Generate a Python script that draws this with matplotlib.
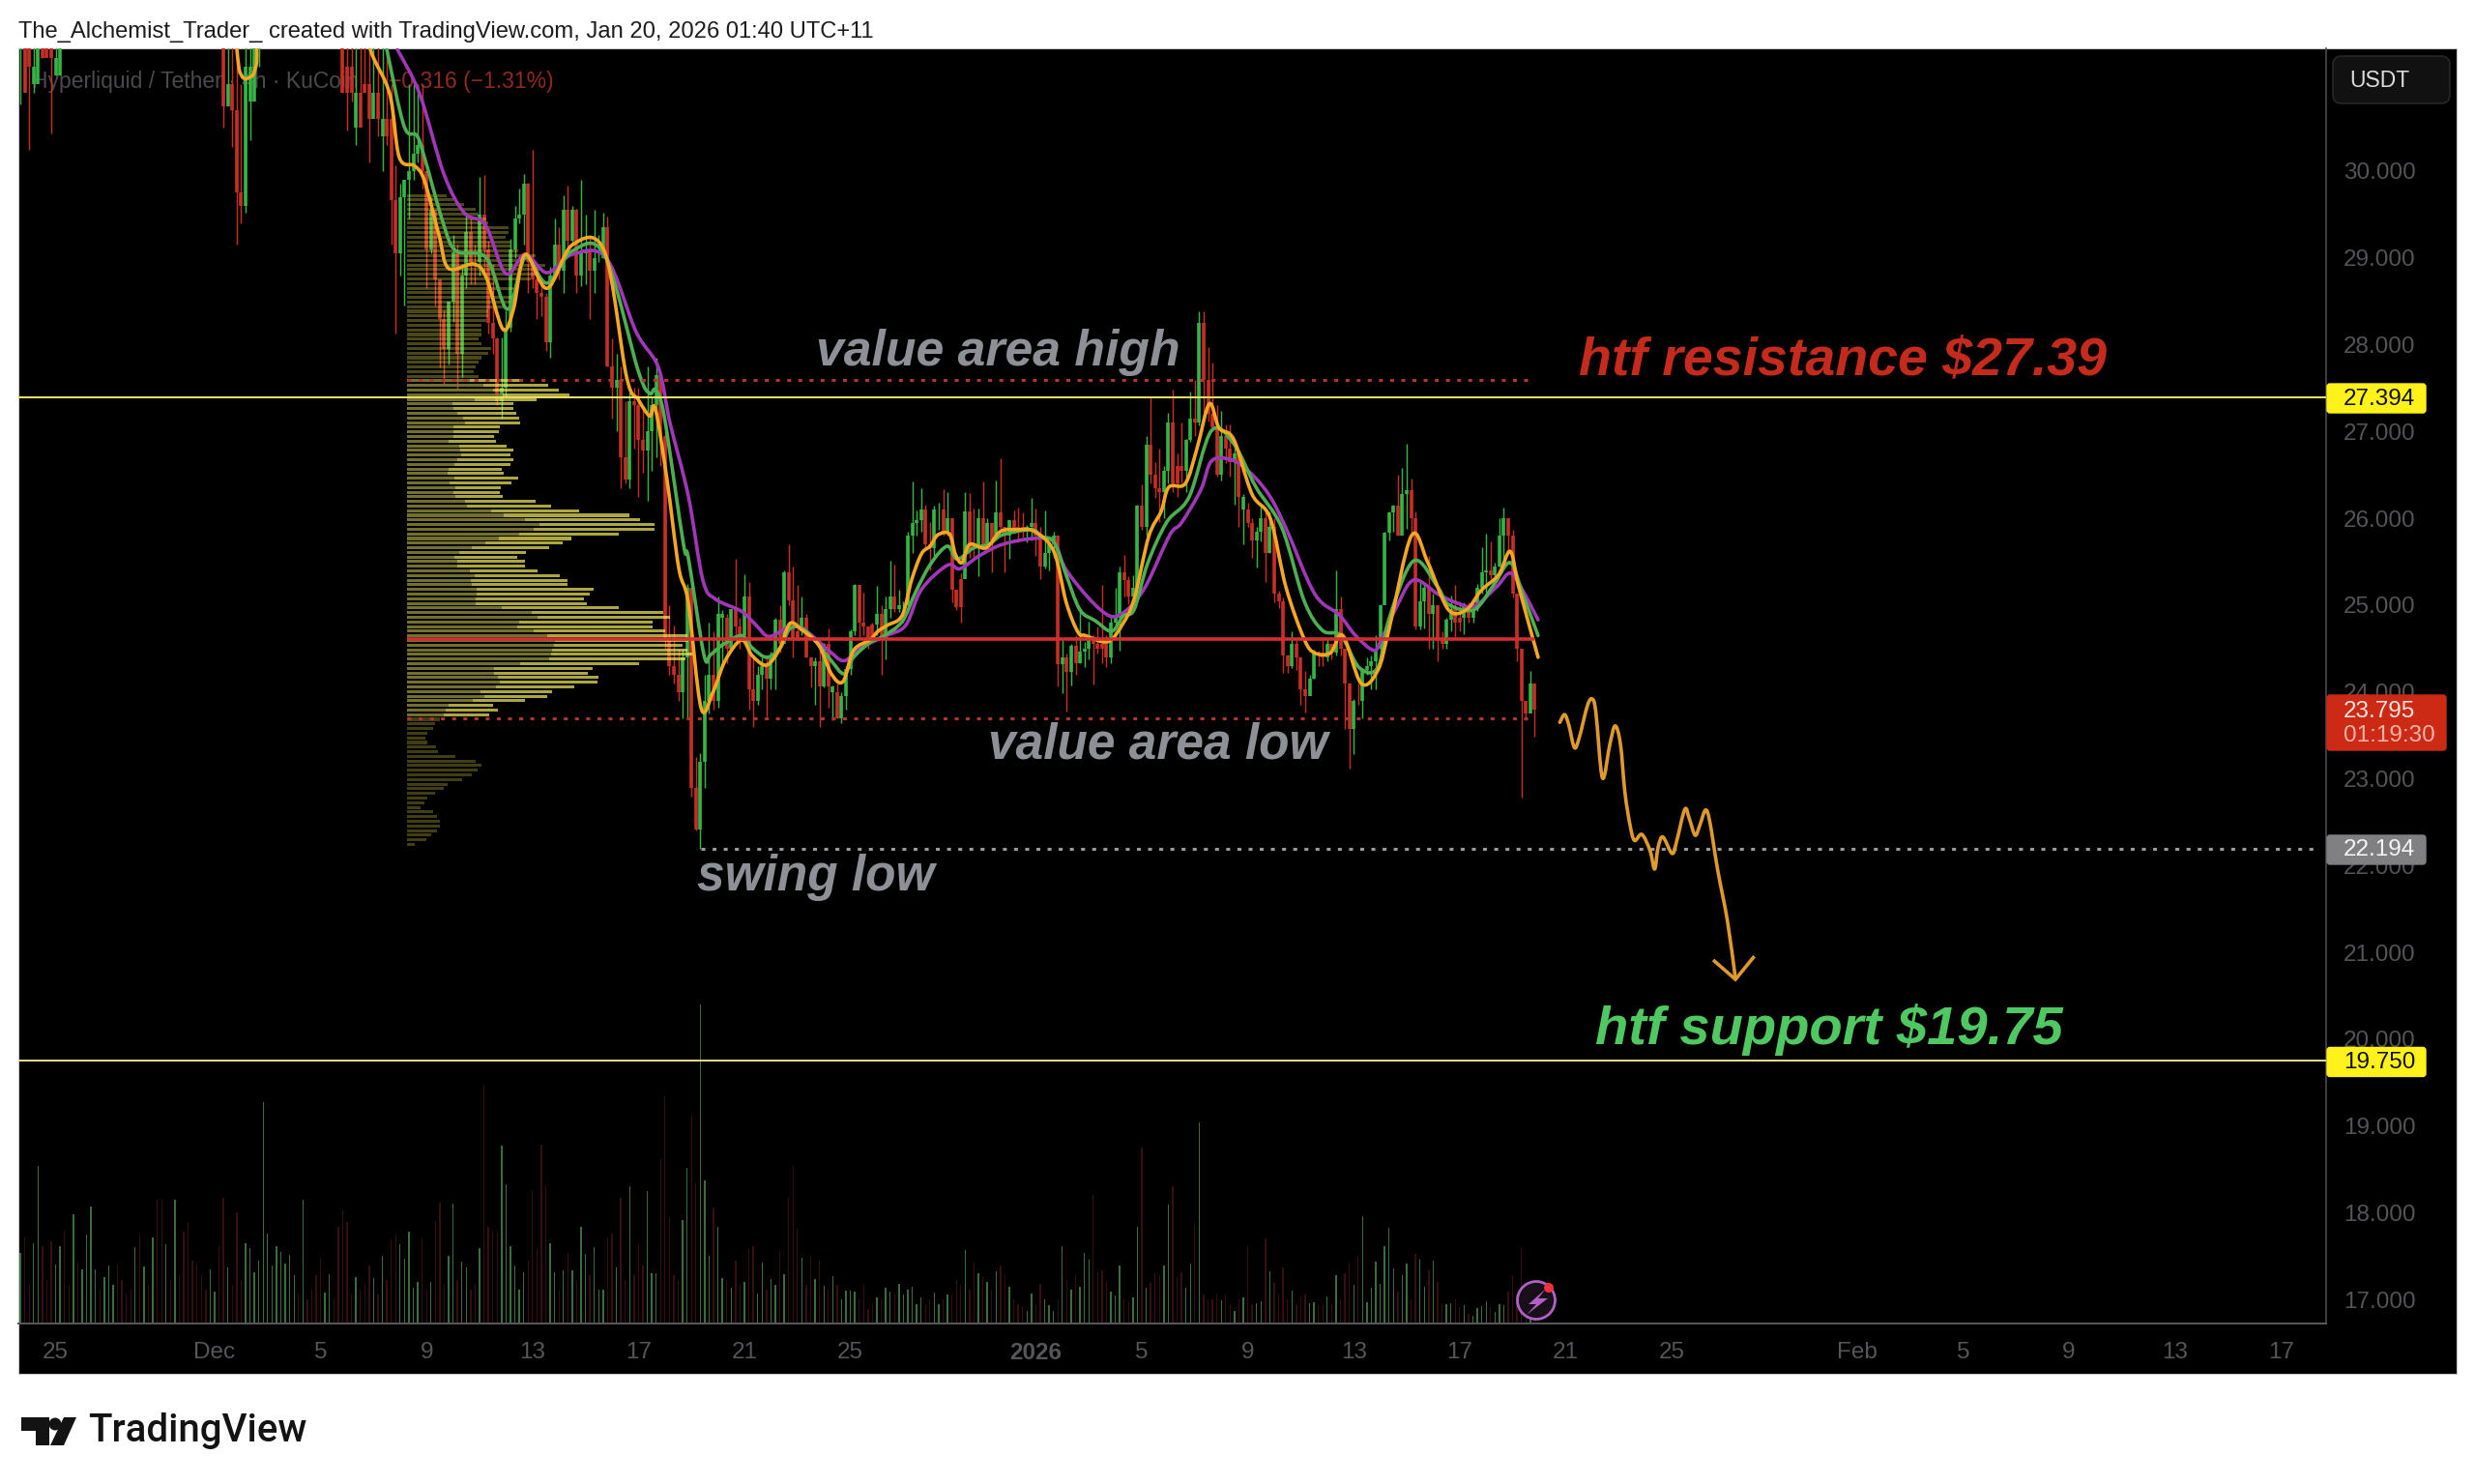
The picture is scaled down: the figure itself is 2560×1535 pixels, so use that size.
import numpy as np
import matplotlib
matplotlib.use("Agg")
import matplotlib.pyplot as plt
from matplotlib.patches import Rectangle, FancyBboxPatch, Circle, Polygon, PathPatch
from matplotlib.path import Path
from matplotlib.transforms import blended_transform_factory

plt.rcParams['font.family'] = ['Liberation Sans', 'DejaVu Sans']

W, H = 2560, 1535

# 4h candles, one per bar. candles above the window only need a rough value
close = [
    30.9, 31.5, 31.2, 31.0, 32.0, 31.3, 31.5, 31.3, 31.1,
    33, 33, 33, 33, 33, 33, 33, 33, 33, 33, 33, 33, 33, 33, 33, 33, 33, 33, 33,
    33, 33, 33, 33, 33, 33, 33, 33, 33, 33, 33, 33, 33, 33, 33, 33, 33, 33,
    30.75, 31.0, 30.7, 29.75, 29.6, 31.2, 30.8, 31.5, 32.0,
    33, 33, 33, 33, 33, 33, 33, 33, 33, 33, 33, 33, 33, 33, 33, 33, 33, 33,
    30.9, 31.2, 30.9, 30.5, 30.9, 31.0, 30.6, 30.9, 30.6, 30.4, 30.6,
    29.67, 29.05, 29.7, 29.9, 30.0, 30.2, 30.3, 30.0, 29.1, 29.55,
    28.75, 28.3, 27.95, 28.5, 29.07, 27.9, 28.8, 29.3, 28.95, 28.95,
    29.5, 29.1, 28.25, 28.07, 27.35, 27.5, 28.2, 29.1, 29.45, 29.5,
    29.85, 28.95, 28.75, 28.6, 28.55, 28.03, 28.8, 29.15, 28.85, 29.55,
    29.2, 29.55, 28.8, 29.05, 29.1, 28.85, 29.0, 29.0, 29.35, 27.75,
    27.5, 27.6, 26.7, 26.45, 27.35, 27.3, 26.9, 26.78, 27.0, 27.3,
    27.65, 26.95, 24.6, 24.3, 24.2, 24.0, 24.4, 25.2, 22.9, 22.42,
    23.2, 23.9, 24.2, 23.9, 24.9, 24.85, 24.5, 24.95, 24.75, 24.65,
    25.1, 24.03, 23.9, 24.2, 24.3, 24.15, 24.4, 24.83, 24.55, 25.38,
    25.06, 24.6, 24.7, 24.85, 24.4, 24.3, 24.35, 24.07, 24.55, 24.07,
    24.0, 23.7, 23.95, 24.27, 24.7, 25.23, 24.8, 24.75, 24.6, 24.78,
    24.9, 24.6, 24.95, 25.1, 24.95, 25.0, 25.0, 25.8, 25.95, 25.98,
    26.1, 25.7, 25.66, 26.1, 26.1, 25.85, 26.0, 25.18, 24.98, 25.3,
    26.08, 25.65, 25.7, 26.0, 25.7, 25.95, 25.75, 26.07, 25.9, 25.8,
    25.98, 25.85, 25.9, 25.85, 25.9, 25.95, 25.8, 25.44, 25.6, 25.7,
    25.8, 24.32, 24.4, 24.23, 24.53, 24.33, 24.47, 24.5, 24.6, 24.55,
    24.5, 24.55, 24.4, 24.8, 24.85, 25.38, 25.29, 25.1, 25.2, 26.15,
    25.9, 26.85, 26.5, 26.35, 26.3, 26.55, 27.1, 26.4, 26.6, 26.55,
    26.9, 27.15, 27.1, 28.25, 27.6, 27.2, 27.05, 26.5, 26.95, 26.8,
    26.65, 26.75, 26.25, 26.1, 25.95, 25.75, 25.85, 26.0, 25.6, 25.9,
    25.13, 25.05, 24.42, 24.3, 24.55, 24.4, 24.03, 23.95, 24.15, 24.45,
    24.45, 24.4, 24.55, 24.45, 24.95, 24.5, 24.1, 23.58, 23.9, 23.9,
    24.25, 24.3, 24.35, 24.5, 25.0, 25.83, 26.07, 26.15, 25.8, 26.28,
    26.33, 26.0, 24.75, 25.05, 25.2, 24.9, 25.0, 24.6, 24.55, 24.83,
    24.95, 24.8, 24.85, 25.0, 24.85, 24.95, 25.2, 25.38, 25.4, 25.35,
    25.45, 25.8, 26.0, 25.8, 25.13, 24.5, 23.9, 23.75, 24.1, 23.795,
]
high = [
    33, 33, 33, 33, 33, 33, 33, 33, 33,
    34, 34, 34, 34, 34, 34, 34, 34, 34, 34, 34, 34, 34, 34, 34, 34, 34, 34, 34,
    34, 34, 34, 34, 34, 34, 34, 34, 34, 34, 34, 34, 34, 34, 34, 34, 34, 34,
    33, 33, 33, 32, 31, 33, 33, 33, 33,
    34, 34, 34, 34, 34, 34, 34, 34, 34, 34, 34, 34, 34, 34, 34, 34, 34, 34,
    33, 33, 33, 32, 32, 33, 32, 32, 32, 31.5, 31.5,
    31.0, 30.07, 29.85, 29.9, 31.0, 31.0, 31.0, 31.0, 30.0, 29.7,
    29.45, 28.72, 28.4, 28.5, 29.27, 29.15, 28.93, 29.52, 29.46, 29.15,
    29.93, 29.96, 29.2, 28.93, 28.09, 28.09, 28.4, 29.22, 29.6, 29.8,
    29.97, 29.87, 30.24, 28.93, 28.75, 28.6, 28.9, 29.45, 29.35, 29.72,
    29.83, 29.6, 29.57, 29.9, 29.5, 29.26, 29.55, 29.26, 29.52, 29.48,
    28.07, 27.9, 27.75, 27.35, 27.45, 27.5, 27.5, 27.25, 27.75, 27.4,
    27.85, 27.65, 27.0, 25.0, 24.77, 24.5, 24.5, 25.25, 25.1, 23.25,
    23.3, 24.2, 24.8, 24.7, 25.1, 24.94, 24.9, 24.95, 25.53, 24.85,
    25.36, 25.27, 24.4, 24.3, 24.4, 24.4, 24.47, 24.85, 25.0, 25.4,
    25.7, 25.44, 25.23, 25.1, 24.9, 24.4, 24.4, 24.6, 24.57, 24.73,
    24.08, 24.1, 24.0, 24.3, 24.72, 25.25, 25.18, 25.14, 24.7, 24.8,
    25.22, 25.0, 25.1, 25.51, 25.47, 25.18, 25.05, 25.85, 26.43, 26.09,
    26.35, 26.16, 25.96, 26.15, 26.18, 26.34, 26.3, 25.9, 25.18, 25.37,
    26.3, 26.29, 26.11, 26.11, 26.43, 26.0, 25.8, 26.44, 26.69, 25.87,
    25.98, 26.09, 26.13, 26.07, 25.92, 26.24, 26.11, 25.9, 26.09, 25.74,
    25.85, 25.8, 24.6, 24.44, 24.55, 24.66, 24.92, 24.58, 24.81, 24.66,
    24.75, 25.23, 24.66, 24.88, 25.2, 25.44, 25.58, 25.33, 25.35, 26.16,
    26.39, 26.95, 27.4, 26.65, 26.8, 26.6, 27.22, 27.48, 26.75, 27.1,
    26.92, 27.46, 27.6, 28.39, 28.38, 27.97, 27.8, 27.3, 27.24, 27.08,
    27.08, 26.92, 26.72, 26.28, 26.18, 26.0, 25.9, 26.16, 26.12, 26.08,
    26.0, 25.17, 25.09, 24.43, 24.7, 24.6, 24.35, 24.24, 24.2, 24.49,
    24.48, 24.6, 24.6, 24.55, 25.4, 25.1, 24.5, 24.1, 23.92, 24.1,
    24.28, 24.4, 24.42, 24.65, 25.01, 25.85, 26.08, 26.16, 26.5, 26.58,
    26.86, 26.46, 26.08, 25.29, 25.25, 25.57, 25.13, 24.99, 24.7, 24.85,
    25.11, 25.23, 25.05, 25.03, 25.03, 25.0, 25.25, 25.67, 25.82, 25.73,
    25.49, 26.0, 26.12, 26.0, 25.87, 25.13, 24.47, 23.9, 24.24, 24.1,
]
low = [
    30.77, 31.2, 30.24, 30.9, 31.8, 31.3, 31.35, 30.43, 31.1,
    32.5, 32.5, 32.5, 32.5, 32.5, 32.5, 32.5, 32.5, 32.5, 32.5, 32.5, 32.5, 32.5, 32.5, 32.5, 32.5, 32.5, 32.5, 32.5,
    32.5, 32.5, 32.5, 32.5, 32.5, 32.5, 32.5, 32.5, 32.5, 32.5, 32.5, 32.5, 32.5, 32.5, 32.5, 32.5, 32.5, 32.5,
    30.5, 31.0, 30.28, 29.15, 29.4, 29.52, 30.36, 31.15, 31.2,
    32.5, 32.5, 32.5, 32.5, 32.5, 32.5, 32.5, 32.5, 32.5, 32.5, 32.5, 32.5, 32.5, 32.5, 32.5, 32.5, 32.5, 32.5,
    30.9, 30.47, 30.8, 30.3, 30.9, 31.0, 30.1, 30.9, 30.4, 30.0, 30.3,
    29.15, 28.13, 28.8, 28.45, 29.45, 29.9, 30.1, 29.8, 28.65, 29.05,
    28.45, 27.74, 27.55, 27.77, 28.26, 27.48, 27.63, 28.65, 28.7, 28.7,
    28.8, 28.83, 28.13, 27.9, 27.3, 27.15, 27.4, 28.15, 29.0, 29.4,
    29.15, 28.6, 28.65, 28.3, 28.33, 27.93, 27.85, 28.75, 28.75, 28.6,
    29.1, 29.15, 28.6, 28.67, 28.7, 28.3, 28.6, 28.95, 29.0, 27.75,
    27.15, 27.0, 26.35, 26.4, 26.35, 26.8, 26.25, 26.52, 26.2, 26.55,
    26.7, 26.6, 24.5, 24.2, 24.1, 23.9, 23.7, 23.7, 22.8, 22.4,
    22.19, 22.9, 23.75, 23.8, 23.82, 24.3, 24.33, 24.6, 24.6, 24.5,
    24.6, 23.8, 23.6, 23.85, 24.03, 23.72, 24.03, 24.03, 24.45, 24.66,
    25.0, 24.4, 24.6, 24.66, 24.4, 24.05, 23.85, 23.6, 24.05, 23.82,
    23.67, 23.7, 23.64, 23.8, 24.2, 24.66, 24.63, 24.66, 24.5, 24.6,
    24.66, 24.2, 24.38, 24.85, 24.92, 24.92, 24.8, 25.0, 25.6, 25.8,
    25.85, 25.66, 25.4, 25.57, 25.87, 25.8, 25.8, 25.03, 24.94, 24.8,
    25.37, 25.55, 25.55, 25.33, 25.66, 25.66, 25.38, 25.85, 25.87, 25.38,
    25.53, 25.82, 25.72, 25.78, 25.72, 25.75, 25.57, 25.3, 25.42, 25.4,
    25.55, 24.07, 23.99, 23.77, 24.08, 24.2, 24.33, 24.29, 24.38, 24.09,
    24.44, 24.33, 24.29, 24.33, 24.73, 24.48, 25.1, 25.01, 25.0, 25.1,
    25.87, 25.8, 26.4, 26.24, 25.96, 26.0, 26.4, 26.3, 26.25, 26.4,
    26.3, 26.88, 26.95, 27.07, 27.1, 27.12, 27.04, 26.48, 26.44, 26.64,
    26.48, 26.16, 25.9, 25.7, 25.9, 25.55, 25.43, 25.73, 25.27, 25.6,
    25.03, 24.97, 24.22, 24.22, 24.28, 24.25, 23.85, 23.76, 24.0, 24.15,
    24.3, 24.3, 24.35, 24.38, 24.42, 24.42, 23.58, 23.12, 23.28, 23.85,
    23.7, 24.2, 24.03, 24.03, 24.42, 25.05, 25.75, 25.85, 25.8, 25.83,
    25.88, 25.8, 24.72, 24.72, 24.73, 24.5, 24.5, 24.35, 24.5, 24.5,
    24.7, 24.63, 24.7, 24.67, 24.8, 24.8, 24.93, 25.13, 25.15, 25.3,
    25.25, 25.45, 25.5, 25.6, 25.09, 24.35, 22.78, 23.68, 23.78, 23.48,
]
# volume bar height, positive = green bar, negative = red bar
volume = [
    73, -90, -40, 83, 163, -80, -45, -85, 61, 80, -95, -40, 113, -63, 56, 92, 121, 56, -35, 48,
    60, 40, -62, -45, -30, -35, 79, -92, 59, -40, 89, -128, -128, 82, -45, 128, -50, -95, -105, -65,
    -62, -50, -35, 56, 33, -80, -130, 58, -40, -115, -45, 83, 78, 53, 65, 229, 93, 60, 80, 74,
    62, 71, 50, -30, 128, -25, -35, -50, -68, 32, 51, -25, -100, -117, -105, -30, 48, -35, -40, -60,
    47, -30, 70, -45, -87, -92, 82, 67, 95, 37, 43, -88, -35, 43, -106, -125, -40, 70, 124, -45,
    64, 58, -35, -40, 78, -247, -100, -95, -95, 184, 144, 80, 60, 35, 53, -65, -138, -78, -185, -143,
    83, 53, -35, 55, -73, 55, -45, 100, 72, -50, 79, 35, 35, -90, -93, 58, -130, -45, 142, -50,
    -83, -60, 137, 52, 52, -170, -235, -110, -50, -45, 107, 161, -215, -145, 330, 148, 70, -120, 100, 47,
    -45, 37, -65, -40, 43, -78, -80, 31, 63, -35, 46, 40, -75, 51, -130, -163, -98, 68, -40, -70,
    46, -65, 39, -35, 49, -40, 25, 34, 34, 33, -25, -40, -15, -20, 27, -25, 37, 33, -30, 41,
    30, 35, 38, 20, 27, -20, -25, 32, 20, -25, 30, -30, -45, -40, 76, -35, -63, 52, -48, 43,
    -35, 54, -60, -50, 38, -25, -20, -18, 13, 31, -20, -41, 25, 19, 13, -25, 80, -45, 35, -50,
    38, 73, 66, -133, -53, -55, -43, 33, 29, 60, -25, -23, 27, 100, -182, 37, -42, -52, -50, 60,
    123, -142, -48, -53, 37, 62, -103, 208, -30, -25, -25, -30, 24, -30, -20, 13, -25, 27, -80, -20,
    21, 23, -88, 54, -42, -30, -58, -25, 34, -20, -28, -30, 21, 22, -20, -20, 28, -20, 50, -25,
    -52, -63, 40, -70, 111, 22, 37, 64, 41, 80, 99, 57, -33, 50, 62, -25, -72, 66, 38, -55,
    65, -43, -20, 20, 21, -25, -17, 19, -10, 8, 16, 18, 23, -17, 12, 20, 19, -33, -50, -30,
    -78, -25, 10, -8,
]

# moving averages, (days from Dec 1, price)
ma_orange_x = [0.4, 0.84, 1.02, 1.31, 1.57, 2.0, 5.5, 5.88, 6.61, 6.97, 7.55, 7.92, 8.47, 8.83, 9.78, 10.26, 10.88, 11.28, 11.72, 12.55, 13.5, 14.71, 15.55, 15.99, 16.42, 16.64, 17.08, 17.52, 17.88, 18.36, 18.8, 19.27, 19.89, 20.29, 20.84, 21.35, 21.72, 22.19, 22.81, 23.28, 23.72, 24.12, 24.74, 25.04, 25.4, 25.95, 26.31, 26.68, 27.01, 27.3, 27.74, 27.96, 28.21, 28.5, 29.12, 29.67, 30.33, 30.95, 31.68, 32.15, 32.59, 32.88, 33.72, 34.27, 34.71, 35.26, 35.73, 36.02, 36.64, 37.08, 37.55, 37.92, 38.47, 39.16, 39.85, 40.44, 41.13, 41.53, 42.12, 42.59, 43.28, 43.91, 44.34, 45.18, 45.8, 46.57, 47.26, 47.81, 48.47, 48.91, 49.23, 49.96]
ma_orange_y = [33, 31.4, 31.1, 31.08, 31.22, 32, 32, 31.4, 30.89, 30.16, 30.06, 29.89, 29.26, 28.88, 28.93, 28.77, 28.18, 28.41, 29.04, 28.65, 29.15, 29.08, 27.63, 27.37, 27.18, 27.26, 26.44, 25.43, 25.03, 23.82, 23.99, 24.36, 24.6, 24.42, 24.31, 24.51, 24.79, 24.71, 24.54, 24.21, 24.12, 24.48, 24.6, 24.7, 24.77, 24.88, 25.29, 25.59, 25.68, 25.81, 25.82, 25.59, 25.49, 25.7, 25.66, 25.85, 25.87, 25.85, 25.62, 25.03, 24.69, 24.65, 24.58, 24.78, 25.07, 25.79, 26.08, 26.36, 26.4, 26.8, 27.32, 27.04, 26.91, 26.28, 26.0, 25.21, 24.61, 24.45, 24.45, 24.65, 24.1, 24.25, 24.73, 25.8, 25.49, 24.95, 24.95, 25.17, 25.35, 25.62, 25.21, 24.4]
ma_green_x = [6.5, 7.15, 7.63, 7.92, 8.65, 9.12, 10.26, 11.06, 11.72, 12.55, 13.5, 14.71, 15.99, 16.42, 16.64, 16.97, 17.7, 17.88, 18.47, 18.72, 19.16, 19.89, 20.29, 20.84, 21.35, 21.72, 22.19, 22.81, 23.28, 23.76, 24.12, 24.74, 25.22, 25.95, 26.46, 27.04, 27.66, 28.03, 28.65, 29.23, 29.74, 30.84, 31.2, 31.68, 32.12, 32.66, 33.25, 33.87, 34.31, 34.71, 35.22, 35.95, 36.79, 37.63, 38.47, 39.31, 40.29, 41.13, 41.82, 42.52, 43.21, 43.91, 44.34, 45.26, 46.17, 46.57, 47.55, 48.32, 48.91, 49.38, 49.96]
ma_green_y = [31.4, 30.52, 30.41, 30.16, 29.38, 29.08, 29.0, 28.41, 29.0, 28.71, 29.08, 29.04, 27.7, 27.44, 27.48, 27.18, 25.7, 25.55, 24.43, 24.43, 24.54, 24.65, 24.51, 24.4, 24.51, 24.73, 24.73, 24.54, 24.36, 24.21, 24.4, 24.57, 24.64, 24.81, 25.15, 25.48, 25.68, 25.53, 25.66, 25.7, 25.81, 25.87, 25.79, 25.73, 25.37, 24.95, 24.82, 24.7, 24.88, 24.95, 25.48, 25.96, 26.25, 27.01, 26.86, 26.36, 25.89, 25.05, 24.71, 24.65, 24.28, 24.28, 24.85, 25.51, 25.21, 25.01, 24.95, 25.25, 25.49, 25.13, 24.65]
ma_purple_x = [6.9, 7.74, 8.65, 9.42, 10.22, 10.99, 11.72, 12.55, 13.5, 14.78, 15.91, 16.75, 17.19, 17.88, 18.43, 18.91, 19.89, 20.44, 20.91, 21.57, 22.08, 22.55, 23.18, 23.76, 24.38, 25.36, 26.09, 26.68, 27.66, 28.14, 28.87, 29.74, 30.95, 31.68, 32.12, 33.03, 33.76, 34.23, 34.71, 35.22, 36.06, 36.5, 37.23, 37.63, 38.32, 39.01, 39.78, 40.44, 41.53, 42.45, 43.07, 43.76, 44.05, 44.6, 45.26, 46.17, 46.86, 47.55, 48.39, 48.91, 49.38, 49.96]
ma_purple_y = [31.4, 30.89, 29.97, 29.52, 29.38, 28.82, 29.04, 28.83, 29.04, 29.0, 28.15, 27.74, 27.1, 26.26, 25.29, 25.07, 24.93, 24.77, 24.64, 24.73, 24.75, 24.65, 24.48, 24.36, 24.51, 24.65, 24.77, 25.18, 25.46, 25.42, 25.57, 25.7, 25.77, 25.73, 25.42, 25.07, 24.88, 24.9, 25.03, 25.26, 25.81, 25.95, 26.33, 26.66, 26.68, 26.55, 26.28, 25.89, 25.13, 24.89, 24.65, 24.48, 24.61, 24.97, 25.29, 25.13, 25.03, 24.99, 25.21, 25.37, 25.17, 24.83]

# volume profile rows, top to bottom
profile_above = [41, 48, 59, 71, 74, 82, 84, 105, 105, 102, 107, 107, 115, 133, 115, 143, 140, 135, 128, 90,
                 115, 90, 110, 107, 100, 84, 84, 82, 77, 77, 77, 74, 77, 87, 84, 77, 74, 71, 69, 74]
profile_area = [119, 146, 157, 168, 134, 110, 110, 113, 116, 117, 96, 95, 90, 92, 103, 110, 107, 110, 107, 98,
                100, 115, 108, 97, 96, 99, 133, 149, 178, 230, 241, 256, 256, 219, 170, 161, 147, 123, 114, 122,
                122, 135, 158, 166, 166, 193, 189, 183, 186, 219, 265, 272, 254, 254, 267, 290, 291, 285, 290, 296,
                288, 240, 192, 187, 198, 197, 173, 150, 145, 122, 89, 94, 85]
profile_area_down = [65, 79, 89, 99, 70, 47, 48, 52, 58, 60, 48, 48, 48, 43, 54, 55, 56, 52, 49, 43,
                     42, 49, 44, 50, 48, 50, 60, 62, 87, 100, 122, 137, 131, 116, 95, 81, 67, 54, 49, 52,
                     52, 65, 70, 66, 67, 72, 72, 71, 71, 98, 129, 135, 116, 114, 131, 145, 153, 152, 150, 149,
                     147, 117, 90, 90, 94, 96, 92, 76, 80, 68, 43, 40, 38]
profile_below = [34, 29, 27, 21, 19, 21, 30, 32, 50, 71, 77, 73, 67, 57, 42, 38, 29, 21, 18, 14, 27, 31, 34, 34, 31, 25, 20, 8]

price_ticks = [30, 29, 28, 27, 26, 25, 24, 23, 22, 21, 20, 19, 18, 17]
time_ticks = [-6, 0, 4, 8, 12, 16, 20, 24, 31, 35, 39, 43, 47, 51, 55, 62, 66, 70, 74, 78]
time_labels = ['25', 'Dec', '5', '9', '13', '17', '21', '25', '2026', '5', '9', '13', '17', '21', '25', 'Feb', '5', '9', '13', '17']

resistance = 27.394
support = 19.75
swing_low = 22.194
last_price = 23.795
value_area_high = 27.59
value_area_low = 23.70
point_of_control = 24.61

# hand drawn projection
sketch_x = [50.78, 50.96, 51.12, 51.33, 51.51, 51.82, 52.0, 52.14, 52.39, 52.67, 52.87, 53.07, 53.24, 53.43, 53.6, 53.88, 54.19, 54.36, 54.49, 54.67, 55.02, 55.19, 55.5, 55.67, 55.89, 56.07, 56.28, 56.44, 56.74, 57.11, 57.41]
sketch_y = [23.65, 23.74, 23.62, 23.36, 23.47, 23.84, 23.92, 23.77, 23.01, 23.4, 23.61, 23.4, 22.84, 22.47, 22.29, 22.36, 22.17, 21.96, 22.21, 22.33, 22.14, 22.28, 22.65, 22.54, 22.35, 22.47, 22.64, 22.51, 21.95, 21.36, 20.7]
head_x = [56.62, 57.41, 58.08]
head_y = [20.9, 20.69, 20.94]

close = np.array(close, float)
high = np.array(high, float)
low = np.array(low, float)
volume = np.array(volume, float)
n = len(close)
days = (np.arange(n) - 44) / 6
opens = np.r_[close[0], close[:-1]]
is_up = volume > 0

GREEN = '#35b546'
RED = '#c62f28'


def smooth_line(a, xs, ys, color, lw, zorder):
    # bezier through the read points, so the line is rounded like the original
    p = np.column_stack([xs, ys])
    prev = np.vstack([p[0], p[:-1]])
    nxt = np.vstack([p[1:], p[-1]])
    tan = (nxt - prev) / 6
    verts = [p[0]]
    codes = [Path.MOVETO]
    for i in range(len(p) - 1):
        verts += [p[i] + tan[i], p[i + 1] - tan[i + 1], p[i + 1]]
        codes += [Path.CURVE4] * 3
    a.add_patch(PathPatch(Path(verts, codes), fc='none', ec=color, lw=lw, zorder=zorder, capstyle='round', joinstyle='round'))


fig = plt.figure(figsize=(W / 100, H / 100), dpi=100, facecolor='white')
fig.add_artist(Rectangle((19 / W, 1 - 1421 / H), 2522 / W, 1371 / H, transform=fig.transFigure,
                         fc='black', ec='#c8c8c8', lw=0.8, zorder=-1))

ax = fig.add_axes([19 / W, 1 - 1369 / H, 2387 / W, 1319 / H])
ax.set_xlim((19 - 222) / 27.4, (2406 - 222) / 27.4)
ax.set_ylim(31.971 - 1369 / 89.8, 31.971 - 50 / 89.8)
ax.patch.set_visible(False)
vol_ax = ax.twinx()
ax.set_zorder(2)
vol_ax.set_zorder(1)
vol_ax.set_ylim(0, 1319)
vol_ax.set_yticks([])
vol_ax.patch.set_visible(False)
for a in (ax, vol_ax):
    for s in a.spines.values():
        s.set_visible(False)

ax.spines['bottom'].set_visible(True)
ax.spines['bottom'].set_color('#5a5a5e')
ax.spines['bottom'].set_linewidth(1.4)
ax.spines['right'].set_visible(True)
ax.spines['right'].set_color('#4a4a50')
ax.spines['right'].set_linewidth(1.2)

vol_ax.bar(days[is_up], volume[is_up], width=0.05, color='#3c6c40', lw=0)
vol_ax.bar(days[~is_up], -volume[~is_up], width=0.05, color='#351010', lw=0)

# title goes under the candles
tr = blended_transform_factory(ax.transAxes, ax.transAxes)
ax.text((33 - 19) / 2387, 1 - (84 - 50) / 1319, 'Hyperliquid / Tether · 4h · KuCoin', color='#4a4a4e', fontsize=16.5,
        va='center', transform=tr, zorder=1)
ax.text((402 - 19) / 2387, 1 - (84 - 50) / 1319, '\u22120.316 (\u22121.31%)', color='#8f2a20', fontsize=16.5,
        va='center', transform=tr, zorder=1)

colors = np.where(is_up, GREEN, RED)
ax.vlines(days, low, high, colors=colors, lw=1.05, zorder=3)
ax.vlines(days, np.minimum(opens, close), np.maximum(opens, close), colors=colors, lw=2.6, zorder=3)

# profile sits over the candles
profile_price = 29.72 - 0.0534 * np.arange(len(profile_above) + len(profile_area) + len(profile_below))
px_day = 1 / 27.4
left = (421 - 222) / 27.4
n_a = len(profile_above)
n_b = len(profile_area)
ax.barh(profile_price[:n_a], np.array(profile_above) * px_day, left=left, height=0.034, color='#e3d94a', alpha=0.33, lw=0, zorder=4)
ax.barh(profile_price[n_a:n_a + n_b], np.array(profile_area) * px_day, left=left, height=0.034, color='#f2e85a', alpha=0.72, lw=0, zorder=4)
ax.barh(profile_price[n_a:n_a + n_b], np.array(profile_area_down) * px_day, left=left, height=0.034, color='#3a3a20', alpha=0.5, lw=0, zorder=4)
ax.barh(profile_price[n_a + n_b:], np.array(profile_below) * px_day, left=left, height=0.034, color='#d9d040', alpha=0.3, lw=0, zorder=4)

smooth_line(ax, ma_purple_x, ma_purple_y, '#a136b8', 2.6, 5)
smooth_line(ax, ma_green_x, ma_green_y, '#4caf50', 2.6, 5.5)
smooth_line(ax, ma_orange_x, ma_orange_y, '#f5a623', 2.6, 6)

ax.axhline(resistance, color='#efe46a', lw=1.4, zorder=7)
ax.axhline(support, color='#e8e18c', lw=1.4, zorder=7)
dots = (0, (1.33, 2.45))
end = days[-1]
ax.plot([left, end], [value_area_high] * 2, color='#b2352c', lw=2.2, ls=dots, zorder=7)
ax.plot([left, end], [value_area_low] * 2, color='#b2352c', lw=2.2, ls=dots, zorder=7)
ax.plot([18.36, 79.4], [swing_low] * 2, color='#9a9a9a', lw=2.2, ls=dots, zorder=7)
ax.plot([left, end], [point_of_control] * 2, color='#d32f2f', lw=2.6, zorder=8, solid_capstyle='butt')

smooth_line(ax, sketch_x, sketch_y, '#e09a2b', 2.6, 8)
ax.plot(head_x, head_y, color='#e09a2b', lw=2.6, zorder=8, solid_joinstyle='miter')

font = dict(fontweight='bold', fontstyle='italic', va='center', zorder=9)
ax.text(22.7, 27.91, 'value area high', color='#8e9097', fontsize=37.3, **font)
ax.text(29.2, 23.38, 'value area low', color='#8e9097', fontsize=37, **font)
ax.text(18.2, 21.86, 'swing low', color='#8e9097', fontsize=37, **font)
ax.text(51.5, 27.8, 'htf resistance $27.39', color='#c42b1c', fontsize=40, **font)
ax.text(52.1, 20.11, 'htf support $19.75', color='#4fc862', fontsize=40.4, **font)

ax.yaxis.tick_right()
ax.set_yticks(price_ticks)
ax.set_yticklabels(['%.3f' % p for p in price_ticks], color='#545458', fontsize=17.5)
ax.tick_params(axis='y', length=0, pad=13)
ax.set_xticks(time_ticks)
ax.set_xticklabels(time_labels, color='#55555a', fontsize=17.5)
ax.tick_params(axis='x', length=0, pad=14)
for lab in ax.get_xticklabels():
    if lab.get_text() == '2026':
        lab.set_fontweight('bold')

# overlay in pixels for tags and the branding around the chart
ov = fig.add_axes([0, 0, 1, 1], zorder=5)
ov.set_xlim(0, W)
ov.set_ylim(H, 0)
ov.axis('off')
ov.patch.set_visible(False)


def price_y(p):
    return H - ax.transData.transform((0, p))[1]


def tag(p, fc, tc, label):
    y = price_y(p) + 1
    ov.add_patch(FancyBboxPatch((2407, y - 15), 102, 30, boxstyle='round,pad=0,rounding_size=3', fc=fc, ec=fc, lw=1))
    ov.text(2424, y + 0.5, label, color=tc, fontsize=17.5, va='center')


tag(resistance, '#fff11a', '#111111', '27.394')
tag(support, '#fff11a', '#111111', '19.750')
tag(swing_low, '#808082', '#f4f4f4', '22.194')
ov.add_patch(FancyBboxPatch((2407, 719), 123, 57, boxstyle='round,pad=0,rounding_size=3', fc='#cc2a14', ec='#cc2a14', lw=1))
ov.text(2424, 736, '%.3f' % last_price, color='#f7e6e2', fontsize=17.5, va='center')
ov.text(2424, 761, '01:19:30', color='#f0b4a8', fontsize=17.5, va='center')

ov.add_patch(FancyBboxPatch((2413, 58), 121, 49, boxstyle='round,pad=0,rounding_size=9', fc='#111112', ec='#2d2d2f', lw=1))
ov.text(2430, 83, 'USDT', color='#dcdcdc', fontsize=16.5, va='center')

ov.text(19, 33, 'The_Alchemist_Trader_ created with TradingView.com, Jan 20, 2026 01:40 UTC+11', color='#1c1c1c', fontsize=17.1, va='center')

ov.add_patch(Polygon([(22, 1466), (51, 1466), (51, 1495), (37, 1495), (37, 1480), (22, 1480)], fc='#131313', ec='none'))
ov.add_patch(Circle((57, 1473), 6.5, fc='#131313', ec='none'))
ov.add_patch(Polygon([(66, 1466), (79, 1466), (66, 1495), (52, 1495)], fc='#131313', ec='none'))
ov.text(91, 1480, 'TradingView', color='#131313', fontsize=29, fontfamily='Roboto', fontweight='medium', va='center')

ov.add_patch(Circle((1589, 1345), 19.5, fc='#171019', ec='#b160c8', lw=2))
ov.add_patch(Polygon([(1599, 1333), (1581, 1349), (1589, 1349), (1579, 1360), (1601, 1343), (1591, 1343)], fc='#b160c8', ec='none'))
ov.add_patch(Circle((1602, 1332), 5, fc='#f0303c', ec='none'))

fig.savefig('out.png', dpi=100, facecolor='white')
